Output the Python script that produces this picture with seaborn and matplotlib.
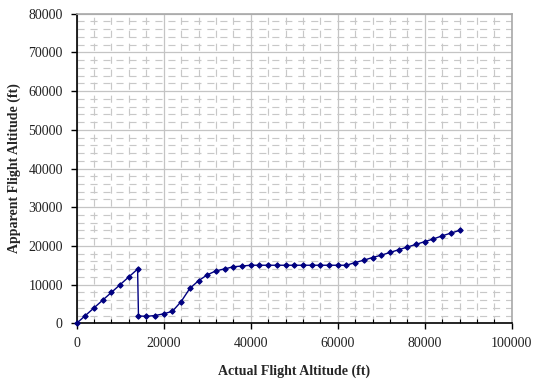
import matplotlib
matplotlib.use("Agg")
import matplotlib.pyplot as plt
from matplotlib.ticker import MultipleLocator
import seaborn as sns
import pandas as pd

# Actual vs. apparent flight altitude (ft)
actual_alt = [0, 2000, 4000, 6000, 8000, 10000, 12000, 14000, 14200,
              16000, 18000, 20000, 22000, 24000, 26000, 28000, 30000,
              32000, 34000, 36000, 38000, 40000, 42000, 44000, 46000,
              48000, 50000, 52000, 54000, 56000, 58000, 60000, 62000,
              64000, 66000, 68000, 70000, 72000, 74000, 76000, 78000,
              80000, 82000, 84000, 86000, 88000]
apparent_alt = [0, 2000, 4000, 6000, 8000, 10000, 12000, 14000, 1900,
                1800, 2000, 2450, 3100, 5600, 9000, 11000, 12500,
                13550, 14050, 14600, 14800, 15000, 15000, 15000, 15000,
                15000, 15000, 15000, 15000, 15000, 15000, 15000, 15000,
                15700, 16300, 17000, 17600, 18300, 19000, 19700, 20400,
                21100, 21800, 22600, 23300, 24000]

x_ticks = [0, 20000, 40000, 60000, 80000, 100000]
y_ticks = [0, 10000, 20000, 30000, 40000, 50000, 60000, 70000, 80000]

sns.set_theme(style="white")
plt.rcParams["font.family"] = ["Liberation Serif", "DejaVu Serif"]

df = pd.DataFrame({"actual": actual_alt, "apparent": apparent_alt})

fig = plt.figure(figsize=(5.37, 3.82), dpi=100)
ax = fig.add_axes([0.1428, 0.1537, 0.8102, 0.8104])

ax.set_axisbelow(True)
ax.xaxis.set_minor_locator(MultipleLocator(4000))
ax.yaxis.set_minor_locator(MultipleLocator(2000))
ax.grid(which="minor", color="#c8c8c8", linewidth=0.85,
        linestyle=(0, (6, 5)))
ax.grid(which="major", color="#c4c4c4", linewidth=0.9, linestyle="-")

sns.lineplot(data=df, x="actual", y="apparent", sort=False,
             estimator=None, color="#000080", linewidth=1.0,
             marker="D", markersize=2.8, markeredgecolor="#000080",
             markerfacecolor="#000080", ax=ax, clip_on=False, zorder=5)

ax.set_xlim(0, 100000)
ax.set_ylim(0, 80000)
ax.set_xticks(x_ticks)
ax.set_yticks(y_ticks)
ax.set_xticklabels([str(v) for v in x_ticks])
ax.set_yticklabels([str(v) for v in y_ticks])

for side in ("left", "bottom"):
    ax.spines[side].set_color("black")
    ax.spines[side].set_linewidth(1.2)
for side in ("top", "right"):
    ax.spines[side].set_color("#a8a8a8")
    ax.spines[side].set_linewidth(1.2)

ax.tick_params(axis="both", which="major", direction="out", length=4,
               width=1, color="black", labelsize=10, pad=6,
               left=True, bottom=True, labelcolor="#222222")
ax.tick_params(axis="x", which="minor", direction="in", length=3,
               width=0.8, color="black", bottom=True)
ax.tick_params(axis="y", which="minor", left=False)

ax.set_xlabel("Actual Flight Altitude (ft)", fontsize=10,
              fontweight="bold", labelpad=10)
ax.set_ylabel("Apparent Flight Altitude (ft)", fontsize=10,
              fontweight="bold", labelpad=5)

fig.savefig("out.png", dpi=100)
